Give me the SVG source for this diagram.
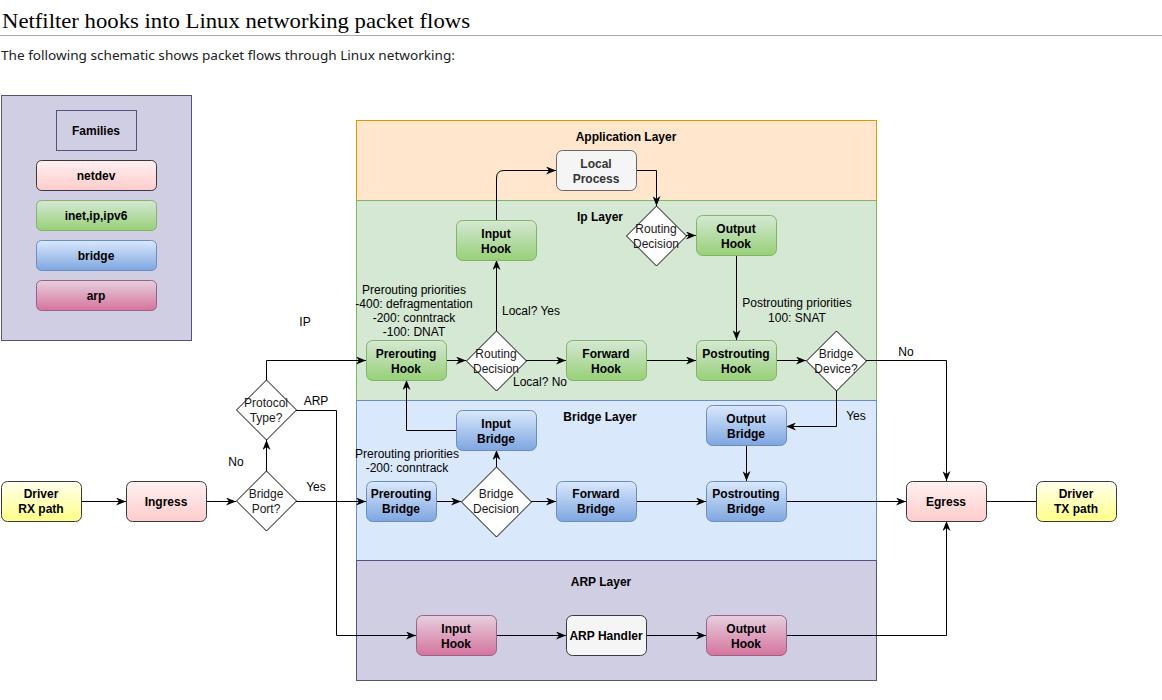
<svg xmlns="http://www.w3.org/2000/svg" width="1162" height="700" viewBox="0 0 1162 700">
<defs>
<linearGradient id="gPink" x1="0" y1="0" x2="0" y2="1"><stop offset="0" stop-color="#fff0f0"/><stop offset="1" stop-color="#ffcccc"/></linearGradient>
<linearGradient id="gGreen" x1="0" y1="0" x2="0" y2="1"><stop offset="0" stop-color="#d5e8d4"/><stop offset="1" stop-color="#97d077"/></linearGradient>
<linearGradient id="gBlue" x1="0" y1="0" x2="0" y2="1"><stop offset="0" stop-color="#dae8fc"/><stop offset="1" stop-color="#7ea6e0"/></linearGradient>
<linearGradient id="gArp" x1="0" y1="0" x2="0" y2="1"><stop offset="0" stop-color="#e6d0de"/><stop offset="1" stop-color="#d5739d"/></linearGradient>
<linearGradient id="gYellow" x1="0" y1="0" x2="0" y2="1"><stop offset="0" stop-color="#ffffee"/><stop offset="1" stop-color="#ffff88"/></linearGradient>
<marker id="arr" viewBox="0 0 10 8" refX="10" refY="4" markerWidth="10" markerHeight="8" markerUnits="userSpaceOnUse" orient="auto"><path d="M0,0 L10,4 L0,8 L3,4 z" fill="#000"/></marker>
<style>
text{font-family:"Liberation Sans",Arial,sans-serif;font-size:12px;fill:#000}
.b{font-weight:bold}
.c{text-anchor:middle}
.d{fill:#1a1a1a}
.pink{fill:url(#gPink);stroke:#36393d}
.green{fill:url(#gGreen);stroke:#82b366}
.blue{fill:url(#gBlue);stroke:#6c8ebf}
.arp{fill:url(#gArp);stroke:#996185}
.yel{fill:url(#gYellow);stroke:#36393d}
.gray{fill:#f5f5f5;stroke:#666666}
.dia{fill:#fff;stroke:#000}
.e{fill:none;stroke:#000;stroke-width:1}
.ea{fill:none;stroke:#000;stroke-width:1;marker-end:url(#arr)}
</style>
</defs>
<rect width="1162" height="700" fill="#fff"/>
<g id="header">
<text x="2" y="28" style="font-family:'Liberation Serif','Times New Roman',serif;font-size:22px" textLength="468" lengthAdjust="spacingAndGlyphs">Netfilter hooks into Linux networking packet flows</text>
<line x1="0" y1="35.5" x2="1162" y2="35.5" stroke="#a2a9b1" stroke-width="1"/>
<text x="1" y="60" style="font-family:'Noto Sans','DejaVu Sans',sans-serif;font-size:13px;fill:#202122" textLength="454" lengthAdjust="spacingAndGlyphs">The following schematic shows packet flows through Linux networking:</text>
</g>
<g id="legend">
<rect x="1.5" y="95.5" width="190" height="245" fill="#d0cee2" stroke="#56517e"/>
<rect x="56.5" y="110.5" width="80" height="40" fill="#d0cee2" stroke="#56517e"/>
<text x="96" y="135" class="b c">Families</text>
<rect x="36.5" y="160.5" width="120" height="30" rx="5" class="pink"/>
<text x="96" y="180" class="b c">netdev</text>
<rect x="36.5" y="200.5" width="120" height="30" rx="5" class="green"/>
<text x="96" y="220" class="b c">inet,ip,ipv6</text>
<rect x="36.5" y="240.5" width="120" height="30" rx="5" class="blue"/>
<text x="96" y="260" class="b c">bridge</text>
<rect x="36.5" y="280.5" width="120" height="30" rx="5" class="arp"/>
<text x="96" y="300" class="b c">arp</text>
</g>
<g id="layers">
<rect x="356.5" y="120.5" width="520" height="80" fill="#ffe6cc" stroke="#d79b00"/>
<text x="626" y="141" class="b c">Application Layer</text>
<rect x="356.5" y="200.5" width="520" height="200" fill="#d5e8d4" stroke="#82b366"/>
<text x="600" y="221" class="b c">Ip Layer</text>
<rect x="356.5" y="400.5" width="520" height="160" fill="#dae8fc" stroke="#6c8ebf"/>
<text x="600" y="421" class="b c">Bridge Layer</text>
<rect x="356.5" y="560.5" width="520" height="120" fill="#d0cee2" stroke="#56517e"/>
<text x="601" y="586" class="b c">ARP Layer</text>
</g>
<g id="connectors">
<path class="ea" d="M81,501.5 H126"/>
<path class="ea" d="M206,501.5 H236"/>
<path class="ea" d="M266.5,471 V440"/>
<path class="ea" d="M296,501.5 H366"/>
<path class="ea" d="M266.5,380 V360.5 H366"/>
<path class="ea" d="M296,410.5 H336.5 V635.5 H416"/>
<path class="ea" d="M446,360.5 H466"/>
<path class="ea" d="M496.5,331 V260"/>
<path class="ea" d="M526,360.5 H566"/>
<path class="ea" d="M496.5,220 V178 Q496.5,170.5 504,170.5 H556"/>
<path class="ea" d="M636,170.5 H656.5 V206"/>
<path class="ea" d="M686,235.5 H696"/>
<path class="ea" d="M736.5,255 V340"/>
<path class="ea" d="M646,360.5 H696"/>
<path class="ea" d="M776,360.5 H806"/>
<path class="ea" d="M866,360.5 H946.5 V481"/>
<path class="ea" d="M836.5,391 V426.5 H786"/>
<path class="ea" d="M456,430.5 H406.5 V380"/>
<path class="ea" d="M496.5,467 V450"/>
<path class="ea" d="M436,501.5 H461"/>
<path class="ea" d="M531,501.5 H556"/>
<path class="ea" d="M636,501.5 H706"/>
<path class="ea" d="M746.5,445 V481"/>
<path class="ea" d="M786,501.5 H906"/>
<path class="e" d="M986,501.5 H1036"/>
<path class="ea" d="M496,635.5 H566"/>
<path class="ea" d="M646,635.5 H706"/>
<path class="ea" d="M786,635.5 H946.5 V521"/>
<text x="305" y="326" class="c">IP</text>
<text x="316" y="405" class="c">ARP</text>
<text x="236" y="466" class="c">No</text>
<text x="316" y="491" class="c">Yes</text>
<text x="531" y="315" class="c">Local? Yes</text>
<text x="540" y="386" class="c">Local? No</text>
<text x="906" y="356" class="c">No</text>
<text x="856" y="420" class="c">Yes</text>
<text x="797" y="307" class="c">Postrouting priorities</text>
<text x="797" y="322" class="c">100: SNAT</text>
<text x="414" y="294" class="c">Prerouting priorities</text>
<text x="414" y="308" class="c">-400: defragmentation</text>
<text x="414" y="322" class="c">-200: conntrack</text>
<text x="414" y="336" class="c">-100: DNAT</text>
<text x="407" y="458" class="c">Prerouting priorities</text>
<text x="407" y="472" class="c">-200: conntrack</text>
</g>
<g id="driver-rx"><rect x="1.5" y="481.5" width="80" height="40" rx="6" class="yel"/><text x="41" y="498" class="b c">Driver</text><text x="41" y="513" class="b c">RX path</text></g>
<g id="ingress"><rect x="126.5" y="481.5" width="80" height="40" rx="6" class="pink"/><text x="166" y="506" class="b c">Ingress</text></g>
<g id="bridge-port"><path d="M266.5,471 L296.5,501 L266.5,531 L236.5,501 z" class="dia"/><text x="266" y="498" class="c d">Bridge</text><text x="266" y="513" class="c d">Port?</text></g>
<g id="protocol-type"><path d="M266.5,380 L296.5,410 L266.5,440 L236.5,410 z" class="dia"/><text x="266" y="407" class="c d">Protocol</text><text x="266" y="422" class="c d">Type?</text></g>
<g id="local-process"><rect x="556.5" y="150.5" width="80" height="40" rx="6" class="gray"/><text x="596" y="168" class="b c" style="fill:#333">Local</text><text x="596" y="183" class="b c" style="fill:#333">Process</text></g>
<g id="ip-input-hook"><rect x="456.5" y="220.5" width="80" height="40" rx="6" class="green"/><text x="496" y="238" class="b c">Input</text><text x="496" y="253" class="b c">Hook</text></g>
<g id="ip-routing-top"><path d="M656.5,206 L686.5,236 L656.5,266 L626.5,236 z" class="dia"/><text x="656" y="233" class="c d">Routing</text><text x="656" y="248" class="c d">Decision</text></g>
<g id="ip-output-hook"><rect x="696.5" y="215.5" width="80" height="40" rx="6" class="green"/><text x="736" y="233" class="b c">Output</text><text x="736" y="248" class="b c">Hook</text></g>
<g id="ip-prerouting-hook"><rect x="366.5" y="340.5" width="80" height="40" rx="6" class="green"/><text x="406" y="358" class="b c">Prerouting</text><text x="406" y="373" class="b c">Hook</text></g>
<g id="ip-routing-mid"><path d="M496.5,331 L526.5,361 L496.5,391 L466.5,361 z" class="dia"/><text x="496" y="358" class="c d">Routing</text><text x="496" y="373" class="c d">Decision</text></g>
<g id="ip-forward-hook"><rect x="566.5" y="340.5" width="80" height="40" rx="6" class="green"/><text x="606" y="358" class="b c">Forward</text><text x="606" y="373" class="b c">Hook</text></g>
<g id="ip-postrouting-hook"><rect x="696.5" y="340.5" width="80" height="40" rx="6" class="green"/><text x="736" y="358" class="b c">Postrouting</text><text x="736" y="373" class="b c">Hook</text></g>
<g id="bridge-device"><path d="M836.5,331 L866.5,361 L836.5,391 L806.5,361 z" class="dia"/><text x="836" y="358" class="c d">Bridge</text><text x="836" y="373" class="c d">Device?</text></g>
<g id="br-input"><rect x="456.5" y="410.5" width="80" height="40" rx="6" class="blue"/><text x="496" y="428" class="b c">Input</text><text x="496" y="443" class="b c">Bridge</text></g>
<g id="br-output"><rect x="706.5" y="405.5" width="80" height="40" rx="6" class="blue"/><text x="746" y="423" class="b c">Output</text><text x="746" y="438" class="b c">Bridge</text></g>
<g id="br-prerouting"><rect x="366.5" y="481.5" width="70" height="40" rx="6" class="blue"/><text x="401" y="498" class="b c">Prerouting</text><text x="401" y="513" class="b c">Bridge</text></g>
<g id="br-decision"><path d="M496.5,467 L531.5,502 L496.5,537 L461.5,502 z" class="dia"/><text x="496" y="498" class="c d">Bridge</text><text x="496" y="513" class="c d">Decision</text></g>
<g id="br-forward"><rect x="556.5" y="481.5" width="80" height="40" rx="6" class="blue"/><text x="596" y="498" class="b c">Forward</text><text x="596" y="513" class="b c">Bridge</text></g>
<g id="br-postrouting"><rect x="706.5" y="481.5" width="80" height="40" rx="6" class="blue"/><text x="746" y="498" class="b c">Postrouting</text><text x="746" y="513" class="b c">Bridge</text></g>
<g id="arp-input"><rect x="416.5" y="615.5" width="80" height="40" rx="6" class="arp"/><text x="456" y="633" class="b c">Input</text><text x="456" y="648" class="b c">Hook</text></g>
<g id="arp-handler"><rect x="566.5" y="615.5" width="80" height="40" rx="6" fill="#f5f5f5" stroke="#36393d"/><text x="606" y="640" class="b c">ARP Handler</text></g>
<g id="arp-output"><rect x="706.5" y="615.5" width="80" height="40" rx="6" class="arp"/><text x="746" y="633" class="b c">Output</text><text x="746" y="648" class="b c">Hook</text></g>
<g id="egress"><rect x="906.5" y="481.5" width="80" height="40" rx="6" class="pink"/><text x="946" y="506" class="b c">Egress</text></g>
<g id="driver-tx"><rect x="1036.5" y="481.5" width="80" height="40" rx="6" class="yel"/><text x="1076" y="498" class="b c">Driver</text><text x="1076" y="513" class="b c">TX path</text></g>
</svg>
